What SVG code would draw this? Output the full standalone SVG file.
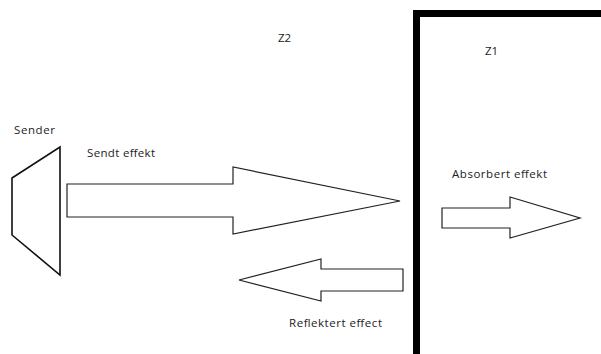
<svg xmlns="http://www.w3.org/2000/svg" width="601" height="354" viewBox="0 0 601 354">
<style>
.t{font-family:"Open Sans","Liberation Sans",sans-serif;font-size:11.5px;fill:#222}
.arrow{fill:#fff;stroke:#222;stroke-width:1.2;stroke-linejoin:miter}
</style>
<rect width="601" height="354" fill="#fff"/>
<g id="z1-medium">
<path d="M416.5,354 V13.5 H601" fill="none" stroke="#000" stroke-width="7"/>
<text class="t" x="485" y="55">Z1</text>
</g>
<g id="z2-label"><text class="t" x="278" y="42">Z2</text></g>
<g id="sender">
<path d="M60,147 V275 L12,235 V178 Z" fill="none" stroke="#111" stroke-width="1.6"/>
<text class="t" x="14" y="134" textLength="41">Sender</text>
</g>
<g id="connectors">
<g id="sendt">
<polygon class="arrow" points="67,184 233,184 233,167 400,201 233,234 233,217 67,217"/>
<text class="t" x="87" y="157" textLength="68">Sendt effekt</text>
</g>
<g id="reflektert">
<polygon class="arrow" points="403,269 321,269 321,259 239,280 321,301 321,291 403,291"/>
<text class="t" x="289" y="327" textLength="93">Reflektert effect</text>
</g>
<g id="absorbert">
<polygon class="arrow" points="442,208 510,208 510,197 580,218 510,238 510,228 442,228"/>
<text class="t" x="452" y="178" textLength="95">Absorbert effekt</text>
</g>
</g>
</svg>
